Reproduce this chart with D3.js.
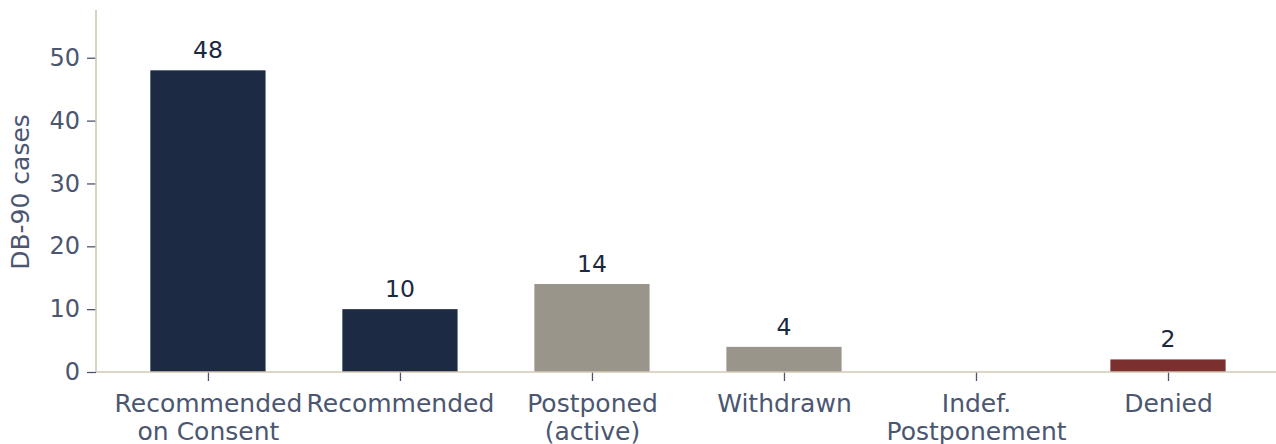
<!DOCTYPE html>
<html>
<head>
<meta charset="utf-8">
<script src="https://cdn.jsdelivr.net/npm/d3@7"></script>
<style>
  html, body { margin: 0; padding: 0; background: #ffffff; }
  svg { display: block; font-family: "DejaVu Sans", sans-serif; }
</style>
</head>
<body>
<svg id="chart" width="1276" height="444"></svg>
<script>
const categories = [["Recommended", "on Consent"], ["Recommended"], ["Postponed", "(active)"], ["Withdrawn"], ["Indef.", "Postponement"], ["Denied"]];
const values = [48, 10, 14, 4, 0, 2];
const barColors = ["#1c2a43", "#1c2a43", "#9a958a", "#9a958a", "#9a958a", "#7b2f2f"];
const valueLabels = ["48", "10", "14", "4", "", "2"];
const yTicks = [0, 10, 20, 30, 40, 50];

(function () {
const svg = d3.select("#chart");
const mLeft = 96, mRight = 1276, mTop = 10, mBottom = 372;

const x = d3.scaleLinear().domain([-0.583, 5.5625]).range([mLeft, mRight]);
const y = d3.scaleLinear().domain([0, 57.6]).range([mBottom, mTop]);
const barW = x(0.6) - x(0);

const tickColor = "#4b5671";
const spineColor = "#d2c7b3";
const fs = 25;

// bars
svg.append("g").selectAll("rect").data(values).join("rect")
  .attr("x", (d, i) => x(i) - barW / 2)
  .attr("y", d => y(d))
  .attr("width", barW)
  .attr("height", d => y(0) - y(d))
  .attr("fill", (d, i) => barColors[i]);

// value labels
svg.append("g").selectAll("text").data(values).join("text")
  .attr("x", (d, i) => x(i))
  .attr("y", d => y(d) - 12)
  .attr("text-anchor", "middle")
  .attr("font-size", 23.5)
  .attr("fill", "#1b2940")
  .text((d, i) => valueLabels[i]);

// y axis
const yAxis = d3.axisLeft(y).tickValues(yTicks).tickSize(9).tickPadding(7);
const gy = svg.append("g").attr("transform", `translate(${mLeft},0)`).call(yAxis);
gy.select(".domain").remove();
gy.selectAll(".tick line").attr("stroke", tickColor).attr("stroke-width", 1.3);
gy.selectAll(".tick text").attr("font-size", 24).attr("fill", tickColor).attr("font-family", "DejaVu Sans");

// x axis
const xAxis = d3.axisBottom(x).tickValues(d3.range(categories.length)).tickSize(9).tickPadding(8).tickFormat(() => "");
const gx = svg.append("g").attr("transform", `translate(0,${mBottom})`).call(xAxis);
gx.select(".domain").remove();
gx.selectAll(".tick line").attr("stroke", tickColor).attr("stroke-width", 1.3);
gx.selectAll(".tick text").each(function(d) {
  const t = d3.select(this).text(null).attr("font-size", fs).attr("fill", tickColor).attr("font-family", "DejaVu Sans").attr("dy", null).attr("y", 0);
  categories[d].forEach((line, k) => {
    t.append("tspan").attr("x", 0).attr("y", 40 + k * 28).text(line);
  });
});

// spines
svg.append("line").attr("x1", mLeft).attr("x2", mLeft).attr("y1", mTop).attr("y2", mBottom)
  .attr("stroke", spineColor).attr("stroke-width", 1.6);
svg.append("line").attr("x1", mLeft).attr("x2", mRight).attr("y1", mBottom).attr("y2", mBottom)
  .attr("stroke", spineColor).attr("stroke-width", 1.6);

// y label
svg.append("text")
  .attr("transform", `translate(29,${192}) rotate(-90)`)
  .attr("text-anchor", "middle")
  .attr("font-size", fs)
  .attr("fill", tickColor)
  .text("DB-90 cases");
})();
</script>
</body>
</html>
